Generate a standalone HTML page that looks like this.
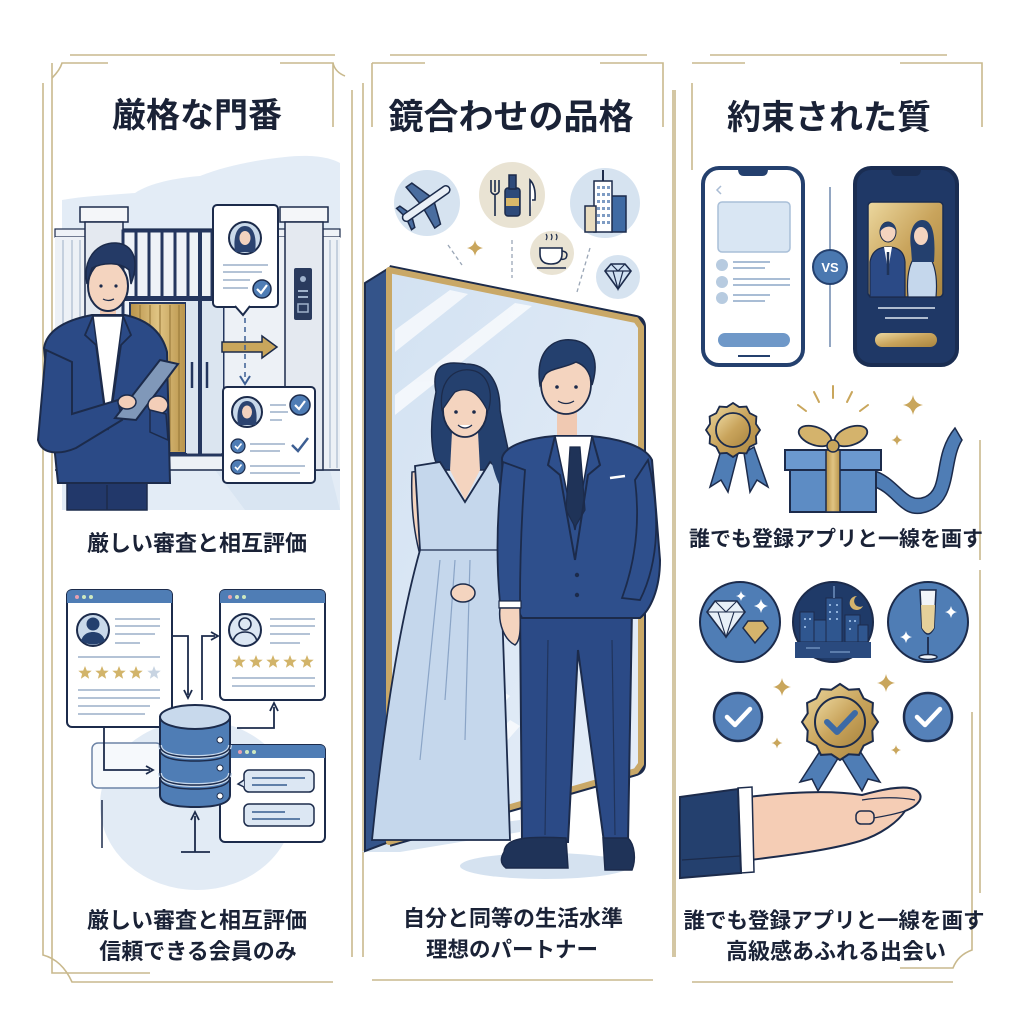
<!DOCTYPE html>
<html><head><meta charset="utf-8">
<style>
html,body{margin:0;padding:0;background:#fff}
svg{display:block}
text{font-family:"Liberation Sans","Noto Sans CJK JP",sans-serif;font-weight:700;fill:#1a2236}
</style></head>
<body>
<svg width="1024" height="1024" viewBox="0 0 1024 1024" xmlns="http://www.w3.org/2000/svg">
<defs>
 <polygon id="star" points="0,-7 1.8,-2.4 6.7,-2.2 2.9,0.9 4.1,5.7 0,3 -4.1,5.7 -2.9,0.9 -6.7,-2.2 -1.8,-2.4"/>
 <path id="spark" d="M0,-10 Q1.5,-1.5 10,0 Q1.5,1.5 0,10 Q-1.5,1.5 -10,0 Q-1.5,-1.5 0,-10Z"/>
 <polygon id="seal" vector-effect="non-scaling-stroke" points="10,0 8.5,2.28 8.66,5 6.22,6.22 5,8.66 2.28,8.5 0,10 -2.28,8.5 -5,8.66 -6.22,6.22 -8.66,5 -8.5,2.28 -10,0 -8.5,-2.28 -8.66,-5 -6.22,-6.22 -5,-8.66 -2.28,-8.5 0,-10 2.28,-8.5 5,-8.66 6.22,-6.22 8.66,-5 8.5,-2.28"/>
 <linearGradient id="gold" x1="0" y1="0" x2="1" y2="1"><stop offset="0" stop-color="#ecd89f"/><stop offset="0.5" stop-color="#c9a45c"/><stop offset="1" stop-color="#a9853f"/></linearGradient>
 <linearGradient id="goldv" x1="0" y1="0" x2="1" y2="0"><stop offset="0" stop-color="#b8934a"/><stop offset="0.5" stop-color="#e0c483"/><stop offset="1" stop-color="#b8934a"/></linearGradient>
 <linearGradient id="glass" x1="0" y1="0" x2="1" y2="1"><stop offset="0" stop-color="#d3e2f2"/><stop offset="1" stop-color="#e6eef8"/></linearGradient>
</defs>
<rect width="1024" height="1024" fill="#ffffff"/>

<!-- ============ FRAMES ============ -->
<g fill="none" stroke="#c9b98d" stroke-width="1.6">
 <path d="M70 55 H335"/><path d="M52 78 Q60 70 62 63 H108"/><path d="M52 63 V973 H150"/>
 <path d="M43 83 V955 Q62 960 72 982 H333"/><path d="M280 63 H333 V127"/><path d="M333 63 Q335 72 345 76"/>
 <path d="M352 90 V957"/>
 <path d="M390 55 H647"/><path d="M372 63 H425"/><path d="M363 83 V957"/><path d="M372 63 V127"/>
 <path d="M600 63 H663 V127"/><path d="M673 90 V957"/><path d="M372 980 H653"/>
 <path d="M710 55 H947"/><path d="M692 63 H745"/><path d="M692 83 V170"/><path d="M675 90 V957"/>
 <path d="M900 63 H982 V127"/><path d="M980 570 V893"/><path d="M972 712 V950 Q958 955 953 968 H900"/>
 <path d="M692 982 H953"/><path d="M980 440 V560"/>
</g>

<!-- ============ TITLES ============ -->
<text x="197" y="127" font-size="34" text-anchor="middle">厳格な門番</text>
<text x="511" y="129" font-size="35" text-anchor="middle">鏡合わせの品格</text>
<text x="829" y="129" font-size="34" text-anchor="middle">約束された質</text>

<text x="197" y="551" font-size="22" text-anchor="middle">厳しい審査と相互評価</text>
<text x="836" y="546" font-size="21" text-anchor="middle">誰でも登録アプリと一線を画す</text>

<text x="197" y="928" font-size="22" text-anchor="middle">厳しい審査と相互評価</text>
<text x="198" y="959" font-size="22" text-anchor="middle">信頼できる会員のみ</text>
<text x="513" y="926" font-size="22" text-anchor="middle">自分と同等の生活水準</text>
<text x="512" y="957" font-size="21.5" text-anchor="middle">理想のパートナー</text>
<text x="834" y="928" font-size="21.5" text-anchor="middle">誰でも登録アプリと一線を画す</text>
<text x="836" y="959" font-size="22" text-anchor="middle">高級感あふれる出会い</text>

<!-- ============ LEFT TOP: GATE ============ -->
<path d="M62 200 C85 196 110 195 135 193 C150 183 175 178 200 176 C225 166 255 160 285 157 C310 154 330 157 340 163 L340 510 L62 510 Z" fill="#e3ecf6"/>
<rect x="55" y="229" width="285" height="8" fill="#eef2f7" stroke="#1c2b4b" stroke-width="1.2"/>
<rect x="55" y="237" width="285" height="233" fill="#edf1f6"/>
<g stroke="#b8c5d6" stroke-width="1.5">
 <line x1="63" y1="240" x2="63" y2="468"/><line x1="72" y1="240" x2="72" y2="468"/><line x1="80" y1="240" x2="80" y2="468"/>
 <line x1="330" y1="240" x2="330" y2="468"/><line x1="337" y1="240" x2="337" y2="468"/>
</g>
<path d="M215 470 L330 470 L340 510 L245 510 Z" fill="#d9e5f2"/>
<line x1="55" y1="470" x2="340" y2="470" stroke="#1c2b4b" stroke-width="1.5"/>
<rect x="80" y="207" width="48" height="15" fill="#f4f6f9" stroke="#1c2b4b" stroke-width="1.5"/>
<rect x="85" y="222" width="38" height="248" fill="#e4e9f0" stroke="#1c2b4b" stroke-width="1.5"/>
<rect x="280" y="207" width="48" height="15" fill="#f4f6f9" stroke="#1c2b4b" stroke-width="1.5"/>
<rect x="285" y="222" width="38" height="248" fill="#e4e9f0" stroke="#1c2b4b" stroke-width="1.5"/>
<rect x="294" y="268" width="18" height="52" rx="2" fill="#2a3b5e"/>
<circle cx="303" cy="279" r="3" fill="#9fb2cc"/>
<rect x="298" y="290" width="10" height="2" fill="#9fb2cc"/><rect x="298" y="296" width="10" height="2" fill="#9fb2cc"/>
<rect x="298" y="304" width="10" height="8" fill="none" stroke="#9fb2cc" stroke-width="1.5"/>
<rect x="123" y="231" width="100" height="224" fill="#eef2f7" stroke="#24365e" stroke-width="3"/>
<g stroke="#24365e" stroke-width="3">
 <line x1="136" y1="232" x2="136" y2="298"/><line x1="149" y1="232" x2="149" y2="298"/><line x1="162" y1="232" x2="162" y2="298"/>
 <line x1="175" y1="232" x2="175" y2="298"/><line x1="188" y1="232" x2="188" y2="298"/><line x1="212" y1="232" x2="212" y2="298"/>
</g>
<rect x="123" y="296" width="100" height="5" fill="#24365e"/>
<rect x="130" y="303" width="56" height="150" fill="url(#goldv)" stroke="#24365e" stroke-width="2"/>
<g stroke="#9c7d3e" stroke-width="1.2">
 <line x1="140" y1="305" x2="140" y2="451"/><line x1="150" y1="305" x2="150" y2="451"/><line x1="160" y1="305" x2="160" y2="451"/>
 <line x1="170" y1="305" x2="170" y2="451"/><line x1="179" y1="305" x2="179" y2="451"/>
</g>
<rect x="186" y="301" width="37" height="152" fill="#dbe5f0"/>
<line x1="200" y1="231" x2="200" y2="455" stroke="#24365e" stroke-width="4"/>
<line x1="192" y1="362" x2="192" y2="388" stroke="#24365e" stroke-width="2.5"/>
<line x1="207" y1="362" x2="207" y2="388" stroke="#24365e" stroke-width="2.5"/>

<!-- card 1 -->
<rect x="213" y="205" width="65" height="102" rx="4" fill="#fff" stroke="#1c2b4b" stroke-width="2"/>
<path d="M235 306 L243 315 L250 306" fill="#fff" stroke="#1c2b4b" stroke-width="2"/>
<circle cx="245" cy="238" r="16" fill="#c9d9ea" stroke="#1c2b4b" stroke-width="2"/>
<path d="M235 252 C233 238 236 226 245 226 C254 226 257 238 255 252 Z" fill="#2b4370"/>
<ellipse cx="245" cy="238" rx="5.5" ry="7" fill="#f3d2bf"/>
<g stroke="#b4c3d6" stroke-width="2"><line x1="223" y1="265" x2="268" y2="265"/><line x1="223" y1="272" x2="262" y2="272"/><line x1="223" y1="280" x2="250" y2="280"/><line x1="223" y1="288" x2="248" y2="288"/></g>
<circle cx="262" cy="289" r="9" fill="#4f7db5" stroke="#1c2b4b" stroke-width="1.5"/>
<path d="M257 289 L261 293 L267 285" fill="none" stroke="#fff" stroke-width="2.2"/>
<path d="M222 342 H262 V336 L277 347 L262 358 V352 H222 Z" fill="#c9a65c" stroke="#1c2b4b" stroke-width="1.5"/>
<line x1="245" y1="318" x2="245" y2="378" stroke="#3d5f93" stroke-width="1.5" stroke-dasharray="5 4"/>
<path d="M240 376 L245 384 L250 376" fill="none" stroke="#3d5f93" stroke-width="2"/>
<!-- card 2 -->
<rect x="223" y="387" width="92" height="96" rx="4" fill="#fff" stroke="#1c2b4b" stroke-width="2"/>
<circle cx="247" cy="412" r="15" fill="#c9d9ea" stroke="#1c2b4b" stroke-width="2"/>
<path d="M238 425 C236 412 239 401 247 401 C255 401 258 412 256 425 Z" fill="#2b4370"/>
<ellipse cx="247" cy="412" rx="5" ry="6.5" fill="#f3d2bf"/>
<circle cx="300" cy="405" r="10" fill="#4f7db5" stroke="#1c2b4b" stroke-width="1.5"/>
<path d="M295 405 L299 409 L305 401" fill="none" stroke="#fff" stroke-width="2.2"/>
<g stroke="#b4c3d6" stroke-width="2"><line x1="270" y1="405" x2="286" y2="405"/><line x1="270" y1="412" x2="288" y2="412"/><line x1="270" y1="420" x2="282" y2="420"/>
<line x1="250" y1="444" x2="285" y2="444"/><line x1="250" y1="451" x2="280" y2="451"/><line x1="250" y1="466" x2="305" y2="466"/><line x1="250" y1="473" x2="300" y2="473"/></g>
<circle cx="238" cy="446" r="7" fill="#4f7db5" stroke="#1c2b4b" stroke-width="1.2"/><path d="M235 446 L237.5 448.5 L241.5 443.5" fill="none" stroke="#fff" stroke-width="1.6"/>
<circle cx="238" cy="467" r="7" fill="#4f7db5" stroke="#1c2b4b" stroke-width="1.2"/><path d="M235 467 L237.5 469.5 L241.5 464.5" fill="none" stroke="#fff" stroke-width="1.6"/>
<path d="M292 445 L298 451 L308 438" fill="none" stroke="#3d5f93" stroke-width="2.5"/>

<!-- man left -->
<rect x="67" y="478" width="80" height="32" fill="#22386a" stroke="#1c2b4b" stroke-width="1.5"/>
<line x1="107" y1="485" x2="107" y2="510" stroke="#1c2b4b" stroke-width="1.5"/>
<rect x="100" y="300" width="16" height="22" fill="#f0c9b2"/>
<path d="M44 348 C47 330 66 320 92 315 L125 315 C148 320 162 332 167 352 L170 483 L58 483 Z" fill="#2b4a86" stroke="#1c2b4b" stroke-width="2"/>
<path d="M93 316 L108 430 L123 316 Z" fill="#fff" stroke="#1c2b4b" stroke-width="1.5"/>
<path d="M93 316 L85 335 L96 345 L106 420 M123 316 L131 335 L121 345 L110 420" fill="none" stroke="#1c2b4b" stroke-width="1.8"/>
<path d="M46 350 L38 440 C42 456 62 454 76 448 L122 420 L118 400 L72 414 L72 362 Z" fill="#2b4a86" stroke="#1c2b4b" stroke-width="2"/>
<polygon points="115,418 160,360 178,364 136,420" fill="#8098b9" stroke="#1c2b4b" stroke-width="2"/>
<ellipse cx="127" cy="402" rx="9" ry="7" fill="#f3ceb8" stroke="#1c2b4b" stroke-width="1.5"/>
<ellipse cx="158" cy="405" rx="10" ry="9" fill="#f3ceb8" stroke="#1c2b4b" stroke-width="1.5"/>
<path d="M150 410 L166 414 L168 440 L150 432 Z" fill="#2b4a86" stroke="#1c2b4b" stroke-width="1.5"/>
<ellipse cx="108" cy="286" rx="20" ry="25" fill="#f4d4bf" stroke="#1c2b4b" stroke-width="2"/>
<path d="M87 284 C82 258 98 242 116 243 C133 244 140 260 131 284 L129 270 C120 262 104 262 92 268 Z" fill="#243a66" stroke="#1c2b4b" stroke-width="1.5"/>
<circle cx="101" cy="286" r="1.6" fill="#1c2b4b"/><circle cx="116" cy="286" r="1.6" fill="#1c2b4b"/>
<path d="M103 299 Q108 302 114 299" fill="none" stroke="#1c2b4b" stroke-width="1.3"/>

<!-- ============ LEFT BOTTOM: DATABASE ============ -->
<ellipse cx="197" cy="805" rx="97" ry="85" fill="#e2ebf5"/>
<rect x="92" y="743" width="70" height="45" rx="6" fill="#f6f9fc" stroke="#6d84a6" stroke-width="1.5"/>
<path d="M102 800 V848" stroke="#1c2b4b" stroke-width="1.5"/>
<rect x="67" y="590" width="105" height="137" rx="5" fill="#fff" stroke="#1c2b4b" stroke-width="2"/>
<path d="M67 603 V595 Q67 590 72 590 H167 Q172 590 172 595 V603 Z" fill="#4f7db5"/>
<circle cx="77" cy="597" r="2" fill="#e8a0b0"/><circle cx="84" cy="597" r="2" fill="#cde8c0"/><circle cx="91" cy="597" r="2" fill="#cde8c0"/>
<circle cx="93" cy="630" r="16" fill="#c9d9ea" stroke="#1c2b4b" stroke-width="2"/>
<path d="M81 641 C83 634 88 632 93 632 C98 632 103 634 105 641 Q93 648 81 641 Z" fill="#24406e"/><circle cx="93" cy="624" r="6.5" fill="#24406e"/>
<g stroke="#b4c3d6" stroke-width="2"><line x1="115" y1="619" x2="160" y2="619"/><line x1="115" y1="626" x2="160" y2="626"/><line x1="115" y1="634" x2="155" y2="634"/><line x1="115" y1="643" x2="140" y2="643"/>
<line x1="78" y1="657" x2="160" y2="657"/><line x1="78" y1="690" x2="160" y2="690"/><line x1="78" y1="698" x2="160" y2="698"/><line x1="78" y1="706" x2="150" y2="706"/><line x1="78" y1="714" x2="145" y2="714"/></g>
<g fill="#d2b46a"><use href="#star" x="85" y="673"/><use href="#star" x="102" y="673"/><use href="#star" x="119" y="673"/><use href="#star" x="136" y="673"/></g>
<use href="#star" x="154" y="673" fill="#c8d4e2"/>
<rect x="220" y="590" width="105" height="110" rx="5" fill="#fff" stroke="#1c2b4b" stroke-width="2"/>
<path d="M220 603 V595 Q220 590 225 590 H320 Q325 590 325 595 V603 Z" fill="#4f7db5"/>
<circle cx="230" cy="597" r="2" fill="#e8a0b0"/><circle cx="237" cy="597" r="2" fill="#cde8c0"/><circle cx="244" cy="597" r="2" fill="#cde8c0"/>
<circle cx="245" cy="630" r="16" fill="#dce7f3" stroke="#1c2b4b" stroke-width="2"/>
<path d="M233 641 C235 634 240 632 245 632 C250 632 255 634 257 641" fill="none" stroke="#1c2b4b" stroke-width="1.6"/><circle cx="245" cy="624" r="6" fill="none" stroke="#1c2b4b" stroke-width="1.6"/>
<g stroke="#b4c3d6" stroke-width="2"><line x1="270" y1="619" x2="315" y2="619"/><line x1="270" y1="626" x2="315" y2="626"/><line x1="270" y1="634" x2="310" y2="634"/><line x1="270" y1="643" x2="300" y2="643"/>
<line x1="232" y1="678" x2="315" y2="678"/><line x1="232" y1="686" x2="315" y2="686"/></g>
<g fill="#d2b46a"><use href="#star" x="239" y="662"/><use href="#star" x="256" y="662"/><use href="#star" x="273" y="662"/><use href="#star" x="290" y="662"/><use href="#star" x="307" y="662"/></g>
<rect x="220" y="745" width="105" height="97" rx="5" fill="#fff" stroke="#1c2b4b" stroke-width="2"/>
<path d="M220 758 V750 Q220 745 225 745 H320 Q325 745 325 750 V758 Z" fill="#4f7db5"/>
<circle cx="240" cy="752" r="2" fill="#e8a0b0"/><circle cx="247" cy="752" r="2" fill="#cde8c0"/><circle cx="254" cy="752" r="2" fill="#cde8c0"/>
<rect x="244" y="770" width="70" height="22" rx="5" fill="#dce7f3" stroke="#1c2b4b" stroke-width="1.5"/>
<path d="M244 780 L238 784 L244 787" fill="#dce7f3" stroke="#1c2b4b" stroke-width="1.5"/>
<rect x="244" y="804" width="70" height="22" rx="5" fill="#dce7f3" stroke="#1c2b4b" stroke-width="1.5"/>
<g stroke="#5f7fa8" stroke-width="2"><line x1="252" y1="778" x2="305" y2="778"/><line x1="252" y1="785" x2="287" y2="785"/><line x1="252" y1="812" x2="285" y2="812"/><line x1="252" y1="819" x2="300" y2="819"/></g>
<g fill="none" stroke="#1c2b4b" stroke-width="1.8">
 <path d="M172 636 H188 V695"/><path d="M184 690 L188 698 L192 690"/>
 <path d="M202 700 V636 H215"/><path d="M211 632 L218 636 L211 640"/>
 <path d="M237 728 H274 V707"/><path d="M270 711 L274 703 L278 711"/>
 <path d="M104 727 V770 H150"/><path d="M146 766 L153 770 L146 774"/>
 <path d="M195 852 V816"/><path d="M191 820 L195 812 L199 820"/><path d="M181 852 H210"/>
</g>
<path d="M160 717 V795 Q160 807 195 807 Q230 807 230 795 V717 Z" fill="#4f7db5" stroke="#1c2b4b" stroke-width="2"/>
<path d="M160 745 Q160 757 195 757 Q230 757 230 745" fill="none" stroke="#c8d9ec" stroke-width="4"/>
<path d="M160 745 Q160 757 195 757 Q230 757 230 745 M160 749 Q160 761 195 761 Q230 761 230 749" fill="none" stroke="#1c2b4b" stroke-width="1.5"/>
<path d="M160 773 Q160 785 195 785 Q230 785 230 773" fill="none" stroke="#c8d9ec" stroke-width="4"/>
<path d="M160 773 Q160 785 195 785 Q230 785 230 773 M160 777 Q160 789 195 789 Q230 789 230 777" fill="none" stroke="#1c2b4b" stroke-width="1.5"/>
<ellipse cx="195" cy="717" rx="35" ry="12" fill="#c8d9ec" stroke="#1c2b4b" stroke-width="2"/>
<circle cx="220" cy="740" r="3" fill="#fff" stroke="#1c2b4b"/><circle cx="220" cy="768" r="3" fill="#fff" stroke="#1c2b4b"/><circle cx="220" cy="796" r="3" fill="#fff" stroke="#1c2b4b"/>

<!-- ============ MIDDLE ============ -->
<circle cx="427" cy="203" r="33" fill="#d6e3f0"/>
<g transform="rotate(-35 427 203)" fill="#4a6d9f" stroke="#1c2b4b" stroke-width="1.5">
 <polygon points="421,201 434,201 426,178 419,178"/>
 <polygon points="421,205 434,205 426,228 419,228"/>
 <polygon points="401,201 407,201 403,190 399,190"/><polygon points="401,205 407,205 403,216 399,216"/>
 <rect x="398" y="199" width="56" height="8" rx="4" fill="#e9eff6"/>
</g>
<circle cx="512" cy="195" r="33" fill="#e9e3d3"/>
<rect x="505" y="188" width="15" height="28" rx="3" fill="#2e4a7a" stroke="#1c2b4b" stroke-width="1.5"/>
<rect x="509" y="175" width="7" height="14" fill="#2e4a7a" stroke="#1c2b4b" stroke-width="1.5"/>
<rect x="506" y="198" width="13" height="8" fill="#d9b86a"/>
<path d="M491 180 V192 M495 180 V192 M499 180 V192 M491 192 Q495 197 499 192 M495 194 V216" fill="none" stroke="#1c2b4b" stroke-width="1.6"/>
<path d="M530 216 V180 Q536 186 535 200 L532 200" fill="#fff" stroke="#1c2b4b" stroke-width="1.6"/>
<circle cx="605" cy="203" r="35" fill="#d6e3f0"/>
<line x1="603" y1="170" x2="603" y2="181" stroke="#1c2b4b" stroke-width="2"/>
<rect x="611" y="196" width="15" height="36" fill="#3f6aa3" stroke="#1c2b4b" stroke-width="1.5"/>
<rect x="594" y="181" width="18" height="51" fill="#fff" stroke="#1c2b4b" stroke-width="1.5"/>
<rect x="585" y="206" width="11" height="26" fill="#e8dcc0" stroke="#1c2b4b" stroke-width="1.5"/>
<g fill="#7e9cc4"><rect x="597" y="186" width="3" height="3"/><rect x="602" y="186" width="3" height="3"/><rect x="607" y="186" width="3" height="3"/>
<rect x="597" y="193" width="3" height="3"/><rect x="602" y="193" width="3" height="3"/><rect x="607" y="193" width="3" height="3"/>
<rect x="597" y="200" width="3" height="3"/><rect x="602" y="200" width="3" height="3"/><rect x="607" y="200" width="3" height="3"/>
<rect x="597" y="207" width="3" height="3"/><rect x="602" y="207" width="3" height="3"/><rect x="607" y="207" width="3" height="3"/>
<rect x="597" y="214" width="3" height="3"/><rect x="602" y="214" width="3" height="3"/><rect x="607" y="214" width="3" height="3"/>
<rect x="597" y="221" width="3" height="3"/><rect x="602" y="221" width="3" height="3"/><rect x="607" y="221" width="3" height="3"/></g>
<circle cx="552" cy="253" r="22" fill="#e9e3d3"/>
<path d="M540 248 H562 V254 Q562 264 551 264 Q540 264 540 254 Z" fill="#fff" stroke="#1c2b4b" stroke-width="1.6"/>
<path d="M562 251 Q569 252 566 258 Q564 260 561 259" fill="none" stroke="#1c2b4b" stroke-width="1.5"/>
<line x1="537" y1="268" x2="566" y2="268" stroke="#1c2b4b" stroke-width="1.6"/>
<path d="M546 240 q2 -3 0 -6 M551 240 q2 -3 0 -6 M556 240 q2 -3 0 -6" fill="none" stroke="#1c2b4b" stroke-width="1.2"/>
<circle cx="618" cy="277" r="22" fill="#d6e3f0"/>
<polygon points="605,271 611,264 625,264 631,271 618,289" fill="#cfe0f2" stroke="#1c2b4b" stroke-width="1.6"/>
<path d="M605 271 H631 M611 264 L618 271 L625 264 M613 271 L618 289 L623 271" fill="none" stroke="#1c2b4b" stroke-width="1.2"/>
<use href="#spark" transform="translate(475 248) scale(0.8)" fill="#c9a65c"/>
<g stroke="#9aa6b6" stroke-width="1.3" stroke-dasharray="4 3">
 <line x1="448" y1="245" x2="462" y2="265"/><line x1="512" y1="240" x2="512" y2="278"/><line x1="590" y1="248" x2="577" y2="292"/>
</g>

<!-- mirror -->
<polygon points="362,852 400,852 520,832 520,820 380,838" fill="#d8e4f1"/>
<polygon points="365,283 389,268 389,842 365,851" fill="#34548a" stroke="#1c2b4b" stroke-width="2"/>
<path d="M389 270 L636 320 Q641 321 641 327 V764 Q641 769 636 771 L389 842" fill="none" stroke="#1c2b4b" stroke-width="10" stroke-linejoin="round"/>
<polygon points="389,270 636,320 641,327 641,764 636,771 389,842" fill="url(#glass)" stroke="#c9a867" stroke-width="6" stroke-linejoin="round"/>
<g fill="#ffffff" opacity="0.7">
 <polygon points="395,330 450,290 468,294 395,352"/>
 <polygon points="395,395 515,303 532,306 395,415"/>
 <polygon points="398,798 500,690 510,696 398,815"/>
 <polygon points="405,836 510,720 520,726 425,834"/>
</g>
<ellipse cx="545" cy="866" rx="85" ry="13" fill="#d5e2f0"/>

<!-- woman -->
<path d="M436 392 C430 360 450 362 466 364 C490 364 500 385 500 410 C505 440 515 470 515 505 L495 510 L495 470 L440 470 C432 460 428 430 436 392 Z" fill="#24406e" stroke="#1c2b4b" stroke-width="1.5"/>
<path d="M452 432 L478 432 L480 470 L465 500 L450 470 Z" fill="#f4d4bf"/>
<path d="M412 472 C410 520 418 560 432 585 L462 600 L466 590 L440 572 C430 540 430 505 428 470 Z" fill="#f4d4bf" stroke="#1c2b4b" stroke-width="1.5"/>
<path d="M415 466 L440 462 L465 502 L490 462 L500 470 L500 550 L510 840 L372 840 C380 760 395 640 420 550 Z" fill="#c5d7ec" stroke="#1c2b4b" stroke-width="1.8"/>
<line x1="420" y1="550" x2="500" y2="550" stroke="#1c2b4b" stroke-width="1.3"/>
<g stroke="#8aa4c6" stroke-width="1.2"><line x1="440" y1="560" x2="420" y2="760"/><line x1="470" y1="560" x2="465" y2="740"/><line x1="455" y1="560" x2="445" y2="700"/></g>
<ellipse cx="463" cy="593" rx="12" ry="9" fill="#f4d4bf" stroke="#1c2b4b" stroke-width="1.5"/>
<ellipse cx="465" cy="410" rx="22" ry="27" fill="#f4d4bf" stroke="#1c2b4b" stroke-width="1.8"/>
<path d="M442 410 C438 380 455 368 470 370 C488 372 494 392 488 412 C480 395 470 385 455 392 C450 398 446 405 442 410 Z" fill="#24406e" stroke="#1c2b4b" stroke-width="1.3"/>
<path d="M488 408 C494 430 500 470 515 505 C505 500 495 480 490 455 Z" fill="#24406e"/>
<circle cx="456" cy="412" r="1.8" fill="#1c2b4b"/><circle cx="474" cy="412" r="1.8" fill="#1c2b4b"/>
<path d="M458 425 Q465 431 472 425" fill="#fff" stroke="#1c2b4b" stroke-width="1.2"/>

<!-- man center -->
<path d="M520 608 L632 608 L628 842 L604 842 L578 650 L568 842 L522 842 Z" fill="#2b4a86" stroke="#1c2b4b" stroke-width="2"/>
<g stroke="#1c2b4b" stroke-width="1.2" opacity="0.7"><line x1="548" y1="640" x2="545" y2="835"/><line x1="612" y1="640" x2="615" y2="835"/></g>
<path d="M504 852 C505 838 525 836 566 838 L568 868 L506 868 Q498 862 504 852 Z" fill="#1f3358" stroke="#1c2b4b" stroke-width="1.5"/>
<path d="M603 838 L628 838 C635 845 636 860 632 870 L605 870 Z" fill="#1f3358" stroke="#1c2b4b" stroke-width="1.5"/>
<rect x="557" y="410" width="20" height="30" fill="#f0c9b2"/>
<path d="M502 458 C505 445 530 438 555 436 L590 436 C615 438 645 445 652 460 L660 560 C660 590 650 610 640 618 L522 618 C512 600 505 580 505 560 Z" fill="#2e4f8c" stroke="#1c2b4b" stroke-width="2"/>
<path d="M555 436 L575 530 L592 436 Z" fill="#fff" stroke="#1c2b4b" stroke-width="1.5"/>
<polygon points="570,447 580,447 585,510 575,527 566,510" fill="#1f3358" stroke="#1c2b4b" stroke-width="1.2"/>
<path d="M555 436 L548 465 L560 475 L575 560 M592 436 L600 465 L588 475 L575 560" fill="none" stroke="#1c2b4b" stroke-width="2"/>
<line x1="610" y1="478" x2="625" y2="476" stroke="#fff" stroke-width="2.5"/>
<circle cx="577" cy="575" r="2.2" fill="#1c2b4b"/><circle cx="577" cy="595" r="2.2" fill="#1c2b4b"/>
<path d="M503 462 C497 510 496 560 500 603 L520 603 C520 560 522 510 525 470 Z" fill="#2e4f8c" stroke="#1c2b4b" stroke-width="1.8"/>
<rect x="499" y="601" width="22" height="7" fill="#fff" stroke="#1c2b4b" stroke-width="1.2"/>
<path d="M500 608 C498 625 505 640 515 645 C522 640 520 620 520 608 Z" fill="#f4d4bf" stroke="#1c2b4b" stroke-width="1.5"/>
<path d="M648 460 C660 510 660 560 640 600 L622 598 C636 560 640 520 635 480 Z" fill="#2e4f8c" stroke="#1c2b4b" stroke-width="1.8"/>
<ellipse cx="566" cy="384" rx="25" ry="30" fill="#f4d4bf" stroke="#1c2b4b" stroke-width="1.8"/>
<path d="M540 385 C535 352 552 338 572 340 C592 342 600 360 592 385 C590 372 585 365 576 362 C565 368 550 368 545 375 Z" fill="#24406e" stroke="#1c2b4b" stroke-width="1.5"/>
<circle cx="557" cy="387" r="1.8" fill="#1c2b4b"/><circle cx="576" cy="387" r="1.8" fill="#1c2b4b"/>
<path d="M558 401 Q566 406 574 401" fill="none" stroke="#1c2b4b" stroke-width="1.3"/>

<!-- ============ RIGHT TOP: PHONES ============ -->
<rect x="703" y="168" width="100" height="197" rx="16" fill="#fff" stroke="#24406e" stroke-width="4"/>
<path d="M738 169 H768 Q768 176 762 176 H744 Q738 176 738 169 Z" fill="#24406e"/>
<path d="M721 186 L717 190 L721 194" fill="none" stroke="#a9bcd4" stroke-width="1.5"/>
<rect x="718" y="202" width="72" height="50" rx="4" fill="#d9e6f3" stroke="#a9bfd8" stroke-width="1.5"/>
<g fill="#b7cbe0"><circle cx="722" cy="265" r="6"/><circle cx="722" cy="282" r="6"/><circle cx="722" cy="298" r="6"/></g>
<g stroke="#a9bdd5" stroke-width="2"><line x1="733" y1="262" x2="770" y2="262"/><line x1="733" y1="268" x2="765" y2="268"/><line x1="733" y1="279" x2="790" y2="279"/><line x1="733" y1="285" x2="790" y2="285"/><line x1="733" y1="295" x2="770" y2="295"/><line x1="733" y1="301" x2="765" y2="301"/></g>
<rect x="718" y="333" width="72" height="14" rx="7" fill="#6f98c8"/>
<line x1="738" y1="356" x2="770" y2="356" stroke="#24406e" stroke-width="2"/>
<line x1="830" y1="187" x2="830" y2="250" stroke="#6e88ad" stroke-width="1.5"/>
<line x1="830" y1="284" x2="830" y2="347" stroke="#6e88ad" stroke-width="1.5"/>
<circle cx="830" cy="267" r="17" fill="#4a78b0" stroke="#24406e" stroke-width="2"/>
<text x="830" y="272" font-size="13" text-anchor="middle" style="fill:#fff">VS</text>
<rect x="855" y="168" width="102" height="197" rx="16" fill="#1f3866" stroke="#1a2d52" stroke-width="4"/>
<path d="M891 169 H921 Q921 176 915 176 H897 Q891 176 891 169 Z" fill="#1a2d52"/>
<rect x="868" y="202" width="75" height="95" rx="4" fill="url(#gold)" stroke="#1a2d52" stroke-width="1.5"/>
<path d="M870 297 V262 C872 250 880 247 888 247 C896 247 904 250 905 262 V297 Z" fill="#2b4a86" stroke="#1c2b4b" stroke-width="1.2"/>
<path d="M884 247 L888 270 L892 247 Z" fill="#fff"/><line x1="888" y1="252" x2="888" y2="275" stroke="#1f3358" stroke-width="2.5"/>
<ellipse cx="888" cy="232" rx="8" ry="10" fill="#f4d4bf" stroke="#1c2b4b"/>
<path d="M880 232 C879 220 896 218 896 231 C893 225 884 225 880 232 Z" fill="#24406e"/>
<path d="M908 297 C906 275 910 255 922 253 C934 255 938 275 936 297 Z" fill="#c5d7ec" stroke="#1c2b4b" stroke-width="1.2"/>
<path d="M911 248 C908 228 916 220 922 220 C932 220 936 232 934 262 L912 262 Z" fill="#24406e"/>
<ellipse cx="921" cy="236" rx="7" ry="9" fill="#f4d4bf"/>
<g stroke="#dfe7f2" stroke-width="1.6"><line x1="878" y1="308" x2="935" y2="308"/><line x1="885" y1="318" x2="928" y2="318"/></g>
<rect x="875" y="333" width="62" height="14" rx="7" fill="url(#gold)"/>

<!-- rosette & gift -->
<g fill="#4f7db5" stroke="#1c2b4b" stroke-width="1.5">
 <polygon points="722,447 710,487 721,480 728,492 738,453"/>
 <polygon points="744,453 750,492 757,480 768,487 754,447"/>
</g>
<use href="#seal" transform="translate(733 430) scale(2.7)" fill="url(#gold)" stroke="#1c2b4b" stroke-width="1.8"/>
<circle cx="733" cy="430" r="17" fill="url(#gold)" stroke="#1c2b4b" stroke-width="1.8"/>
<path d="M872 470 C900 478 905 505 925 497 C945 488 932 456 955 428 L962 440 C948 462 958 502 926 512 C900 520 895 492 872 486 Z" fill="#4f7db5" stroke="#1c2b4b" stroke-width="1.5"/>
<rect x="790" y="468" width="86" height="44" fill="#5d8cc4" stroke="#1c2b4b" stroke-width="2"/>
<rect x="785" y="450" width="96" height="20" fill="#6b99cf" stroke="#1c2b4b" stroke-width="2"/>
<rect x="826" y="450" width="14" height="62" fill="url(#goldv)" stroke="#1c2b4b" stroke-width="1.5"/>
<ellipse cx="815" cy="436" rx="17" ry="9" transform="rotate(20 815 436)" fill="#d4b36c" stroke="#1c2b4b" stroke-width="1.8"/>
<ellipse cx="851" cy="436" rx="17" ry="9" transform="rotate(-20 851 436)" fill="#d4b36c" stroke="#1c2b4b" stroke-width="1.8"/>
<circle cx="833" cy="446" r="6" fill="#c9a65c" stroke="#1c2b4b" stroke-width="1.5"/>
<g stroke="#c9a65c" stroke-width="2" stroke-linecap="round">
 <line x1="833" y1="386" x2="833" y2="398"/><line x1="814" y1="392" x2="819" y2="402"/><line x1="852" y1="392" x2="847" y2="402"/>
 <line x1="798" y1="405" x2="806" y2="411"/><line x1="868" y1="405" x2="860" y2="411"/>
</g>
<use href="#spark" transform="translate(913 405) scale(1.0)" fill="#c9a65c"/>
<use href="#spark" transform="translate(897 440) scale(0.55)" fill="#c9a65c"/>

<!-- ============ RIGHT BOTTOM ============ -->
<circle cx="740" cy="622" r="40" fill="#4f7db5" stroke="#1c2b4b" stroke-width="2"/>
<polygon points="707,612 715,601 737,601 745,612 726,637" fill="#e8f0f8" stroke="#1c2b4b" stroke-width="1.6"/>
<path d="M707 612 H745 M715 601 L726 612 L737 601 M718 612 L726 637 L734 612" fill="none" stroke="#1c2b4b" stroke-width="1.1"/>
<polygon points="743,628 748,621 763,621 768,628 755,643" fill="#d4b36c" stroke="#1c2b4b" stroke-width="1.5"/>
<use href="#spark" transform="translate(741 596) scale(0.5)" fill="#fff"/>
<use href="#spark" transform="translate(761 606) scale(0.7)" fill="#fff"/>
<circle cx="833" cy="622" r="40" fill="#1f3a68" stroke="#1c2b4b" stroke-width="2"/>
<g fill="#2f568f" stroke="#1c2b4b" stroke-width="1">
 <rect x="800" y="612" width="14" height="30"/><rect x="826" y="598" width="16" height="44"/><rect x="814" y="620" width="12" height="22"/><rect x="845" y="615" width="15" height="27"/><rect x="858" y="625" width="10" height="17"/>
</g>
<line x1="834" y1="586" x2="834" y2="598" stroke="#6f8fbd" stroke-width="1.5"/>
<g fill="#8fb0da"><rect x="829" y="604" width="2" height="2"/><rect x="836" y="604" width="2" height="2"/><rect x="829" y="611" width="2" height="2"/><rect x="836" y="611" width="2" height="2"/><rect x="829" y="618" width="2" height="2"/><rect x="836" y="618" width="2" height="2"/><rect x="804" y="618" width="2" height="2"/><rect x="809" y="618" width="2" height="2"/><rect x="804" y="626" width="2" height="2"/><rect x="849" y="620" width="2" height="2"/><rect x="854" y="620" width="2" height="2"/><rect x="849" y="628" width="2" height="2"/></g>
<rect x="795" y="642" width="76" height="16" fill="#2a4a7e"/>
<g stroke="#8fb0da" stroke-width="1"><line x1="806" y1="648" x2="820" y2="648"/><line x1="830" y1="652" x2="850" y2="652"/></g>
<path d="M857 596 A7 7 0 1 0 863 606 A5.5 5.5 0 1 1 857 596 Z" fill="#d4b36c"/>
<circle cx="928" cy="622" r="40" fill="#4f7db5" stroke="#1c2b4b" stroke-width="2"/>
<path d="M920 590 H936 L934 628 Q928 640 922 628 Z" fill="#f2f5f9" stroke="#1c2b4b" stroke-width="1.5"/>
<path d="M921 605 H935 L934 628 Q928 638 922 628 Z" fill="#e5d09a"/>
<line x1="928" y1="637" x2="928" y2="655" stroke="#1c2b4b" stroke-width="1.8"/>
<ellipse cx="928" cy="657" rx="9" ry="2.5" fill="#f2f5f9" stroke="#1c2b4b" stroke-width="1.5"/>
<use href="#spark" transform="translate(951 612) scale(0.6)" fill="#fff"/>
<use href="#spark" transform="translate(906 637) scale(0.6)" fill="#fff"/>

<circle cx="738" cy="717" r="24" fill="#5581b9" stroke="#1c2b4b" stroke-width="2.5"/>
<path d="M727 717 L735 725 L750 709" fill="none" stroke="#fff" stroke-width="4.5" stroke-linecap="round" stroke-linejoin="round"/>
<circle cx="928" cy="717" r="24" fill="#5581b9" stroke="#1c2b4b" stroke-width="2.5"/>
<path d="M917 717 L925 725 L940 709" fill="none" stroke="#fff" stroke-width="4.5" stroke-linecap="round" stroke-linejoin="round"/>
<g fill="#4f7db5" stroke="#1c2b4b" stroke-width="1.5">
 <polygon points="822,748 800,782 812,779 818,791 840,755"/>
 <polygon points="840,755 862,791 868,779 880,782 858,748"/>
</g>
<use href="#seal" transform="translate(840 722) scale(3.8)" fill="url(#gold)" stroke="#1c2b4b" stroke-width="2"/>
<circle cx="840" cy="722" r="25" fill="url(#gold)" stroke="#1c2b4b" stroke-width="2"/>
<path d="M827 722 L837 732 L855 713" fill="none" stroke="#3d6aa5" stroke-width="6" stroke-linecap="round" stroke-linejoin="round"/>
<g fill="#c9a65c">
 <use href="#spark" transform="translate(782 687) scale(0.9)"/><use href="#spark" transform="translate(886 683) scale(0.9)"/>
 <use href="#spark" transform="translate(777 743) scale(0.55)"/><use href="#spark" transform="translate(896 750) scale(0.5)"/>
</g>
<path d="M748 797 C790 792 830 790 862 795 C880 790 905 784 916 790 C926 797 918 806 905 811 C898 822 880 835 860 841 C830 850 790 855 750 860 Z" fill="#f5cdb5" stroke="#1c2b4b" stroke-width="2"/>
<path d="M862 800 C880 797 900 797 915 800 M860 820 C875 818 892 815 905 811" fill="none" stroke="#1c2b4b" stroke-width="1.2"/>
<rect x="856" y="811" width="18" height="13" rx="5" fill="#f5cdb5" stroke="#1c2b4b" stroke-width="1.5"/>
<polygon points="738,788 752,787 754,872 741,873" fill="#fff" stroke="#1c2b4b" stroke-width="1.5"/>
<polygon points="680,797 738,789 741,873 680,878" fill="#24406e" stroke="#1c2b4b" stroke-width="2"/>
<line x1="682" y1="860" x2="740" y2="856" stroke="#1c2b4b" stroke-width="1.2"/>
</svg>
</body></html>
